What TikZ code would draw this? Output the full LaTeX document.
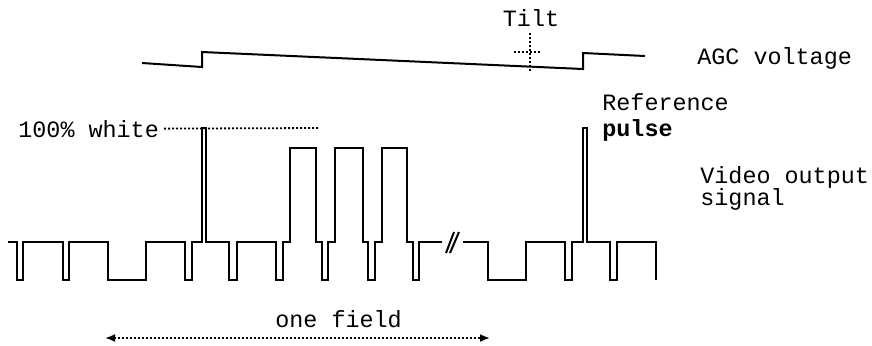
\documentclass[tikz,border=0pt]{standalone}
\usepackage{fontspec}
\setmonofont{Liberation Mono}
\usetikzlibrary{arrows.meta}

\tikzset{
  trace/.style={line width=1pt, line join=miter},
  dotline/.style={line width=0.9pt, dash pattern=on 1pt off 1pt},
  plotter/.style={font=\ttfamily\fontsize{11.7}{14}\selectfont, inner sep=0pt, anchor=base west},
}

\begin{document}
\begin{tikzpicture}[x=0.5pt, y=-0.5pt]
    \useasboundingbox (0,0) rectangle (872,345);

    % AGC voltage
    \draw[trace] (142,63) -- (202,67) -- (202,52) -- (583,69) -- (583,53) -- (645,56);
    \node[plotter] (agc) at (697,64) {AGC voltage};

    % tilt marker
    \node[plotter, anchor=base] (tilt) at (531,26) {Tilt};
    \coordinate (tilttop) at (530,33);
    \coordinate (tiltbot) at (530,73);
    \coordinate (tiltleft) at (514,52);
    \coordinate (tiltright) at (542,52);
    \draw[dotline] (tilttop) -- (tiltbot);
    \draw[dotline] (tiltleft) -- (tiltright);

    % video output signal
    \draw[trace] (8,242) -- (17,242) -- (17,280) -- (23,280) -- (23,242)
        -- (63,242) -- (63,280) -- (69,280) -- (69,242)
        -- (108,242) -- (108,280) -- (146,280) -- (146,242)
        -- (185,242) -- (185,280) -- (192,280) -- (192,242)
        -- (202,242) -- (202,128) -- (206,128) -- (206,242)
        -- (229,242) -- (229,280) -- (237,280) -- (237,242)
        -- (276,242) -- (276,280) -- (283,280) -- (283,242)
        -- (290,242) -- (290,148) -- (316,148) -- (316,242)
        -- (322,242) -- (322,280) -- (328,280) -- (328,242)
        -- (335,242) -- (335,148) -- (363,148) -- (363,242)
        -- (368,242) -- (368,280) -- (375,280) -- (375,242)
        -- (382,242) -- (382,148) -- (407,148) -- (407,242)
        -- (413,242) -- (413,280) -- (419,280) -- (419,242) -- (442,242);
    \draw[trace] (446,253) -- (454,232);
    \draw[trace] (450,253) -- (459,232);
    \draw[trace] (463,242) -- (488,242) -- (488,280) -- (526,280) -- (526,242)
        -- (565,242) -- (565,280) -- (572,280) -- (572,242)
        -- (583,242) -- (583,128) -- (587,128) -- (587,242)
        -- (610,242) -- (610,280) -- (617,280) -- (617,242)
        -- (656,242) -- (656,280);
    \node[plotter] (video) at (700,183) {Video output};
    \node[plotter] (signal) at (700,205) {signal};

    % reference pulse
    \node[plotter] (reference) at (602,110) {Reference};
    \node[plotter, font=\ttfamily\bfseries\fontsize{11.7}{14}\selectfont] (pulse) at (602,136) {pulse};

    % 100% white level
    \node[plotter] (white) at (18,137) {100\% white};
    \coordinate (whiteend) at (318,128);
    \draw[dotline, shorten <=2.5pt] (white.east) -- (whiteend);

    % one field
    \node[plotter] (field) at (275,327) {one field};
    \coordinate (fieldleft) at (105,338);
    \coordinate (fieldright) at (490,338);
    \draw[dotline, {Latex[length=5pt,width=4pt]}-{Latex[length=5pt,width=4pt]}] (fieldleft) -- (fieldright);
\end{tikzpicture}
\end{document}
